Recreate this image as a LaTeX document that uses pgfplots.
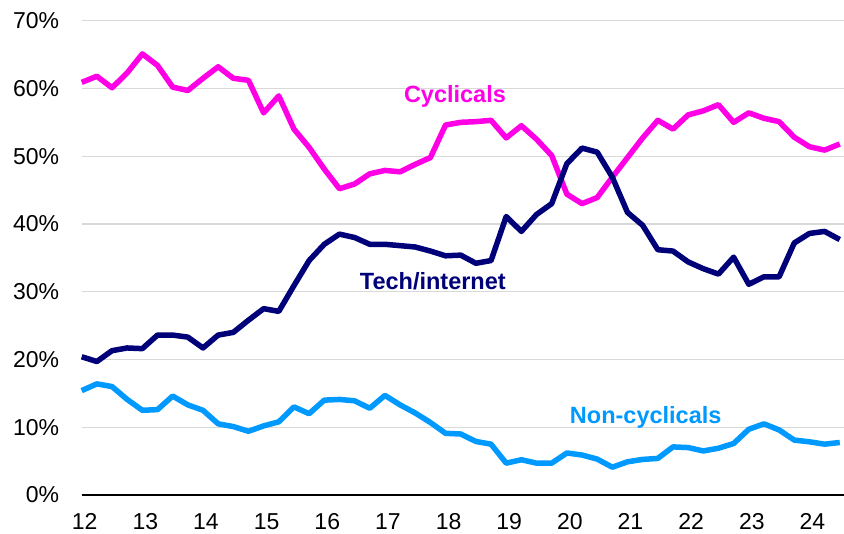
\documentclass[border=0pt]{standalone}
\usepackage{fontspec}
\setmainfont{Liberation Sans}
\usepackage{pgfplots}
\pgfplotsset{compat=1.18}
\definecolor{cyc}{HTML}{FF00E6}
\definecolor{tech}{HTML}{000078}
\definecolor{noncyc}{HTML}{0099FF}
\definecolor{gridc}{HTML}{D9D9D9}

\pgfplotstableread{
x cyc tech non
12.00 60.9 20.4 15.4
12.25 61.8 19.7 16.4
12.50 60.1 21.3 16.0
12.75 62.3 21.7 14.1
13.00 65.1 21.6 12.5
13.25 63.4 23.6 12.6
13.50 60.2 23.6 14.6
13.75 59.7 23.3 13.3
14.00 61.5 21.7 12.5
14.25 63.2 23.6 10.5
14.50 61.5 24.0 10.1
14.75 61.2 25.8 9.4
15.00 56.4 27.5 10.2
15.25 58.9 27.1 10.8
15.50 54.0 30.9 13.0
15.75 51.3 34.6 12.0
16.00 48.1 37.0 14.0
16.25 45.2 38.5 14.1
16.50 45.9 38.0 13.9
16.75 47.4 37.0 12.8
17.00 47.9 37.0 14.7
17.25 47.7 36.8 13.3
17.50 48.8 36.6 12.1
17.75 49.8 36.0 10.7
18.00 54.6 35.3 9.1
18.25 55.0 35.4 9.0
18.50 55.1 34.2 7.9
18.75 55.3 34.6 7.5
19.00 52.7 41.1 4.7
19.25 54.5 38.9 5.2
19.50 52.5 41.4 4.7
19.75 50.1 43.0 4.7
20.00 44.4 48.9 6.2
20.25 43.0 51.2 5.9
20.50 43.9 50.6 5.3
20.75 46.9 46.9 4.1
21.00 49.8 41.7 4.9
21.25 52.7 39.8 5.25
21.50 55.3 36.2 5.4
21.75 54.0 36.0 7.1
22.00 56.1 34.4 7.0
22.25 56.7 33.4 6.5
22.50 57.6 32.6 6.9
22.75 55.0 35.1 7.6
23.00 56.4 31.1 9.7
23.25 55.6 32.2 10.5
23.50 55.1 32.2 9.6
23.75 52.8 37.2 8.1
24.00 51.4 38.6 7.85
24.25 50.9 38.9 7.5
24.50 51.8 37.7 7.75
}\shares

\begin{document}
\begin{tikzpicture}
\begin{axis}[
  scale only axis, width=762.3pt, height=474.3pt,
  xmin=12, xmax=24.57, ymin=0, ymax=70,
  axis lines=left,
  y axis line style={draw=none},
  x axis line style={black, line width=2.5pt, -},
  xtick={12,...,24}, ytick={0,10,...,70},
  major tick length=0pt,
  ymajorgrids, grid style={gridc, line width=1.2pt},
  yticklabel={\pgfmathprintnumber{\tick}\%},
  yticklabel style={anchor=east, xshift=-19pt},
  xticklabel style={anchor=north, yshift=-15pt, xshift=3pt},
  ticklabel style={font=\fontsize{23}{27}\selectfont},
  /pgf/number format/assume math mode=true,
  every axis plot/.append style={line width=5.5pt, line join=round, no marks},
  clip=false,
]
\addplot[cyc] table[x=x, y=cyc] {\shares};
\addplot[noncyc] table[x=x, y=non] {\shares};
\addplot[tech] table[x=x, y=tech] {\shares};
\node[anchor=base, text=cyc, font=\bfseries\fontsize{23.5}{27}\selectfont] at (axis cs:18.155,57.9) {Cyclicals};
\node[anchor=base, text=tech, font=\bfseries\fontsize{23.5}{27}\selectfont] at (axis cs:17.79,30.4) {Tech/internet};
\node[anchor=base, text=noncyc, font=\bfseries\fontsize{23.5}{27}\selectfont] at (axis cs:21.30,10.48) {Non-cyclicals};
\end{axis}
\pgfresetboundingbox
\path[use as bounding box] (-81.7pt,-39pt) rectangle (762.3pt,495pt);
\end{tikzpicture}
\end{document}
